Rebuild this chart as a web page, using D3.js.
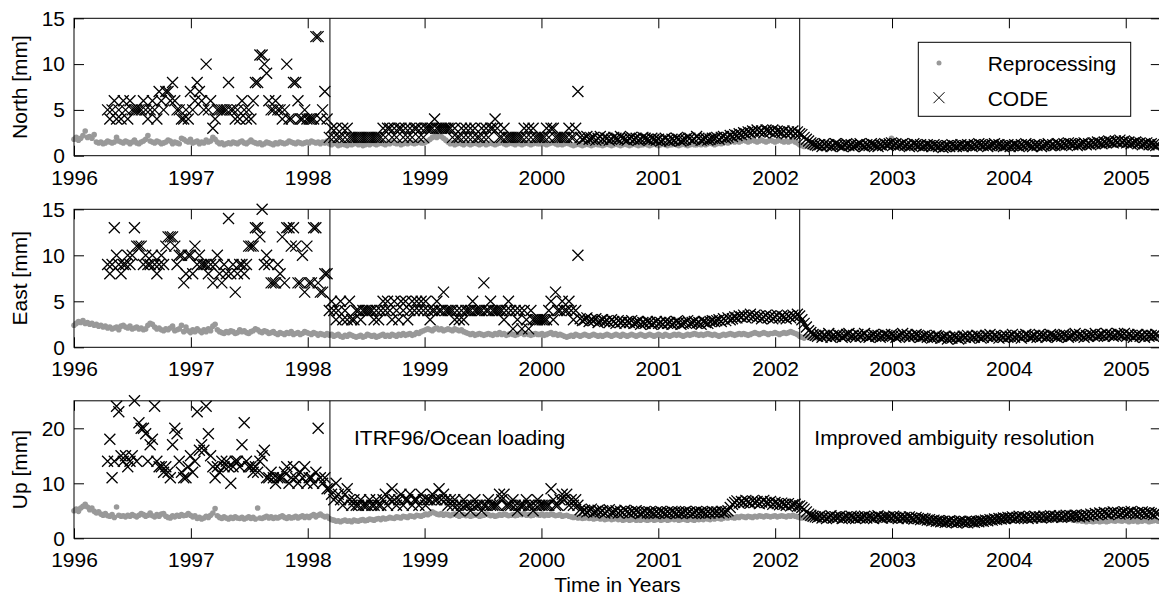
<!DOCTYPE html>
<html>
<head>
<meta charset="utf-8">
<script src="https://cdn.jsdelivr.net/npm/d3@7"></script>
<style>
  body { margin: 0; background: #fff; }
  svg { display: block; font-family: "Liberation Sans", Arial, Helvetica, sans-serif; }
</style>
</head>
<body>
<svg id="chart" width="1159" height="596"></svg>
<script>
// --- Donnees : une valeur par semaine ---
const weekStep = 7 / 365.25;
const reproStart = 1996.0;          // Reprocessing : semaine 0
const codeStart = 1996.0 + 15 * weekStep; // CODE commence a la semaine 15

const xTicks = [1996, 1997, 1998, 1999, 2000, 2001, 2002, 2003, 2004, 2005];
const changeDates = [1998.19, 2002.21];
const annotations = ["ITRF96/Ocean loading", "Improved ambiguity resolution"];
const legendLabels = ["Reprocessing", "CODE"];

const northRepro = [
  // 1996
  1.8,2.0,1.7,1.9,2.2,2.7,2.0,2.1,1.9,2.3, 1.5,1.4,1.5,1.3,1.4,1.6,1.5,1.4,1.5,2.0,
  1.6,1.5,1.4,1.6,1.5,1.3,1.5,1.7,1.4,1.3, 1.5,1.6,1.8,2.2,1.6,1.5,1.4,1.6,1.5,1.3,
  1.4,1.5,1.7,1.6,1.3,1.5,1.4,1.3,1.9,1.8, 1.6,1.5,
  // 1997
  1.8,1.4,1.5,1.6,1.3,1.5,1.4,1.7,1.5,1.6, 2.0,1.8,1.5,1.3,1.4,1.2,1.3,1.4,1.3,1.5,
  1.4,1.3,1.5,1.6,1.4,1.3,1.5,1.7,1.5,1.4, 1.3,1.4,1.2,1.3,1.5,1.4,1.3,1.2,1.4,1.3,
  1.5,1.4,1.3,1.4,1.6,1.5,1.4,1.3,1.5,1.4, 1.3,1.4,
  // 1998
  1.5,1.4,1.6,1.5,1.4,1.5,1.3,1.5,1.4,1.6, 1.3,1.2,1.4,1.3,1.1,1.2,1.3,1.2,1.1,1.3,
  1.2,1.3,1.4,1.2,1.3,1.1,1.2,1.3,1.2,1.4, 1.3,1.2,1.3,1.4,1.3,1.2,1.4,1.3,1.5,1.4,
  1.3,1.4,1.2,1.3,1.4,1.3,1.5,1.4,1.3,1.4, 1.5,1.4,
  // 1999
  1.4,1.5,1.6,1.8,2.0,2.1,2.0,2.2,2.1,1.9, 1.7,1.5,1.3,1.4,1.2,1.3,1.4,1.3,1.2,1.4,
  1.3,1.2,1.3,1.4,1.3,1.2,1.3,1.4,1.2,1.3, 1.4,1.3,1.2,1.3,1.4,1.5,1.3,1.2,1.3,1.4,
  1.3,1.2,1.4,1.3,1.2,1.3,1.4,1.3,1.2,1.3, 1.4,1.3,
  // 2000
  1.3,1.4,1.3,1.2,1.3,1.4,1.5,1.3,1.2,1.3, 1.2,1.3,1.4,1.3,1.2,1.1,1.2,1.3,1.2,1.1,
  1.2,1.3,1.2,1.1,1.2,1.3,1.2,1.2,1.1,1.2, 1.3,1.2,1.1,1.2,1.3,1.2,1.1,1.2,1.3,1.2,
  1.1,1.2,1.3,1.2,1.1,1.2,1.2,1.3,1.2,1.1, 1.2,1.3,
  // 2001
  1.2,1.1,1.2,1.3,1.2,1.1,1.2,1.2,1.3,1.2, 1.1,1.2,1.3,1.2,1.1,1.2,1.3,1.2,1.2,1.3,
  1.2,1.3,1.2,1.3,1.4,1.3,1.2,1.3,1.4,1.3, 1.4,1.5,1.4,1.5,1.6,1.5,1.6,1.5,1.6,1.7,
  1.6,1.5,1.6,1.7,1.6,1.5,1.6,1.7,1.6,1.5, 1.6,1.7,
  // 2002
  1.6,1.5,1.6,1.7,1.6,1.5,1.6,1.5,1.6,1.7, 1.5,1.4,1.2,1.1,1.0,1.1,1.0,0.9,1.0,1.1,
  1.0,0.9,1.0,1.1,1.0,1.0,0.9,1.0,1.1,1.0, 0.9,1.0,1.1,1.0,0.9,1.0,1.1,1.2,1.1,1.0,
  1.1,1.0,0.9,1.0,1.1,1.0,1.1,1.2,1.1,1.0, 1.1,1.2,
  // 2003
  1.1,1.9,1.2,1.0,1.1,1.0,0.9,1.0,1.1,1.0, 0.9,1.0,1.1,1.0,0.9,1.0,0.9,1.0,1.1,1.0,
  0.9,1.0,0.9,1.0,1.1,1.0,0.9,0.8,0.9,1.0, 0.9,1.0,1.1,1.0,0.9,1.0,0.9,1.0,1.1,1.0,
  1.1,1.0,0.9,1.0,1.1,1.0,1.0,1.1,1.0,0.9, 1.0,1.1,
  // 2004
  1.0,1.1,1.0,0.9,1.0,1.1,1.0,0.9,1.0,1.0, 1.1,1.0,0.9,1.0,1.1,1.0,0.9,1.0,1.1,1.0,
  1.0,1.1,1.0,0.9,1.0,1.1,1.2,1.1,1.0,1.1, 1.2,1.1,1.0,1.1,1.2,1.1,1.0,1.1,1.2,1.1,
  1.2,1.1,1.0,1.1,1.2,1.3,1.2,1.1,1.2,1.3, 1.2,1.3,
  // 2005
  1.3,1.2,1.3,1.4,1.3,1.2,1.3,1.4,1.3,1.2, 1.3,1.2,1.1,1.2,1.3,1.2,1.1
];

const northCode = [
  // 1996.29 - 1998.19
  5,4,5,6,4,5,4,6,5,4, 6,5,5,5,5,5,6,5,4,5, 6,5,4,7,6,5,7,7,6,8, 6,5,5,4,4,5,4,7,5,6,
  8,7,6,5,10,5,6,3,4,5, 5,5,5,5,8,5,5,4,5,4, 6,5,4,5,4,6,8,8,11,11, 10,9,6,5,5,6,5,5,4,5,
  10,4,4,8,8,6,4,4,5,4, 4,4,4,13,13,4,5,7,4,
  // 1998.19 - 2000.31
  2,3,2,3,2,2,3,2,3,2,2, 2,2,2,2,2,2,2,2,2,2,2,2,2,
  3,2,3,3,2,3,2,3,3,2,3,2,3,2,3,3,2,3,2,3,3, 3,3,4,3,3,3,3,3,3,3,
  2,3,2,2,3,2,3,2,3,2,3,2,2,3,2,3,2,3,3,4,3,2,2,3,2, 2,2,2,2,2,2,2,
  3,2,3,2,3,2,2,2,2,2, 3,2,3,3,2,2,2,2, 2,2,3,2,2,3, 7,
  // 2000.33 - 2002.19
  2.0,1.8,1.9,2.1,1.8,1.9,2.0,1.7,1.9,2.1, 1.8,2.0,1.9,1.7,1.8,2.0,1.9,1.8,2.1,1.9,
  1.8,1.7,1.9,2.0,1.8,1.9,1.7,1.8,2.0,1.9, 1.8,1.7,1.9,1.8,1.7,
  1.8,1.6,1.7,1.9,1.7,1.6,1.8,1.7,1.9,1.8, 1.6,1.7,1.8,2.0,1.9,1.7,1.8,2.1,1.9,1.7,
  1.8,1.9,1.7,1.8,1.9,
  1.9,2.0,1.8,2.0,2.1,1.9,2.0,2.2,2.1,2.3, 2.2,2.4,2.3,2.5,2.4,2.6,2.5,2.7,2.6,2.8,
  2.6,2.7,2.5,2.8,2.7,2.6,2.8,2.5,2.7,2.6, 2.5,2.7,2.4,2.6,2.5,2.7,2.4,2.6,
  2.4,2.3,2.0,1.8,1.6,1.4,1.3,1.2,
  // 2002.36 - 2005.3
  1.1,1.2,1.0,1.3,1.1,1.2,1.0,1.1,1.3,1.2, 1.1,1.0,1.2,1.3,1.1,1.2,1.0,1.1,1.2,1.3,
  1.1,1.0,1.2,1.1,1.3,1.2,1.1,1.0,1.2,1.1, 1.3,1.2,
  1.3,1.4,1.2,1.3,1.1,1.2,1.3,1.1,1.2,1.0, 1.1,1.3,1.2,1.1,1.2,1.0,1.1,1.2,1.1,1.0,
  1.2,1.1,1.0,1.1,0.9,1.0,1.1,1.0,1.2,1.1, 1.0,1.1,1.2,1.0,1.1,1.2,1.1,1.0,1.2,1.1,
  1.3,1.2,1.1,1.2,1.0,1.1,1.2,1.3,1.1,1.2, 1.1,1.0,
  1.1,1.2,1.0,1.1,1.2,1.1,1.0,1.2,1.1,1.3, 1.2,1.1,1.0,1.2,1.1,1.2,1.0,1.1,1.2,1.3,
  1.1,1.2,1.1,1.3,1.2,1.1,1.3,1.2,1.4,1.3, 1.2,1.3,1.1,1.2,1.3,1.4,1.2,1.3,1.2,1.4,
  1.3,1.5,1.4,1.3,1.5,1.4,1.6,1.5,1.4,1.6, 1.5,1.7,
  1.5,1.6,1.4,1.5,1.3,1.4,1.5,1.3,1.4,1.2, 1.3,1.4,1.2,1.3,1.2,1.1,1.2
];

const eastRepro = [
  // 1996
  2.4,2.6,2.8,2.7,2.9,2.6,2.7,2.5,2.6,2.4, 2.5,2.3,2.4,2.2,2.3,2.1,2.2,2.0,2.1,2.2,
  1.9,2.3,2.4,2.2,2.1,2.3,2.0,2.1,2.2,2.0, 2.1,1.9,2.0,2.4,2.6,2.5,2.2,2.0,2.1,1.9,
  1.8,2.0,1.9,2.1,2.3,1.8,1.9,2.0,2.4,1.7, 2.2,1.8,
  // 1997
  1.6,1.9,1.7,2.0,1.8,1.6,1.9,1.7,2.0,1.8, 2.3,2.5,1.9,1.7,1.6,1.5,1.7,1.6,1.8,1.7,
  1.5,1.6,1.9,1.7,1.8,1.6,1.5,1.7,1.8,2.0, 1.9,1.7,1.6,1.8,1.7,1.5,1.6,1.7,1.5,1.4,
  1.6,1.5,1.4,1.6,1.5,1.7,1.4,1.5,1.6,1.4, 1.5,1.7,
  // 1998
  1.6,1.5,1.4,1.6,1.5,1.3,1.5,1.4,1.3,1.5, 1.3,1.4,1.2,1.3,1.4,1.2,1.1,1.3,1.2,1.4,
  1.3,1.2,1.1,1.2,1.3,1.1,1.2,1.4,1.3,1.2, 1.3,1.1,1.2,1.3,1.4,1.2,1.3,1.2,1.4,1.3,
  1.2,1.4,1.3,1.5,1.3,1.4,1.5,1.3,1.4,1.6, 1.5,1.7,
  // 1999
  1.8,1.9,2.0,1.9,1.8,2.0,2.1,1.9,2.0,1.8, 1.9,2.0,1.9,1.8,2.0,1.9,1.8,1.9,1.7,1.6,
  1.5,1.4,1.5,1.3,1.4,1.5,1.4,1.3,1.4,1.5, 1.4,1.3,1.5,1.4,1.6,1.4,1.5,1.3,1.4,1.5,
  1.4,1.3,1.4,1.5,1.6,1.4,1.5,1.4,1.3,1.4, 1.5,1.4,
  // 2000
  1.4,1.5,1.3,1.4,1.5,1.6,1.4,1.5,1.3,1.4, 1.3,1.2,1.1,1.2,1.3,1.2,1.4,1.3,1.2,1.3,
  1.4,1.3,1.2,1.3,1.4,1.3,1.2,1.3,1.2,1.3, 1.4,1.3,1.2,1.3,1.4,1.3,1.2,1.4,1.3,1.2,
  1.3,1.4,1.3,1.2,1.3,1.4,1.3,1.2,1.3,1.4, 1.3,1.2,
  // 2001
  1.3,1.4,1.3,1.2,1.4,1.3,1.2,1.3,1.4,1.3, 1.4,1.3,1.2,1.3,1.4,1.3,1.4,1.5,1.4,1.3,
  1.4,1.3,1.4,1.5,1.4,1.3,1.4,1.3,1.2,1.3, 1.4,1.3,1.4,1.5,1.4,1.3,1.4,1.5,1.4,1.5,
  1.4,1.3,1.4,1.5,1.6,1.5,1.4,1.5,1.6,1.5, 1.4,1.5,
  // 2002
  1.5,1.6,1.5,1.4,1.5,1.6,1.5,1.6,1.7,1.6, 1.5,1.4,1.2,1.1,1.0,1.2,1.1,1.0,1.1,1.2,
  1.0,1.1,1.2,1.1,1.0,1.1,1.2,1.1,1.0,1.1, 1.0,1.1,1.2,1.1,1.0,1.1,1.2,1.1,1.0,1.1,
  1.2,1.1,1.0,1.1,1.2,1.1,1.0,1.1,1.2,1.1, 1.0,1.1,
  // 2003
  1.1,1.2,1.1,1.0,1.1,1.2,1.1,1.0,1.1,1.2, 1.1,1.0,1.1,1.0,0.9,1.0,1.1,1.0,0.9,1.0,
  1.1,1.0,0.9,1.0,0.9,0.8,0.9,1.0,0.9,1.0, 0.9,1.0,1.1,1.0,0.9,1.0,1.1,1.0,0.9,1.0,
  1.1,1.0,1.1,1.0,0.9,1.0,1.1,1.0,1.1,1.0, 1.1,1.0,
  // 2004
  1.0,1.1,1.0,0.9,1.0,1.1,1.0,1.1,1.0,0.9, 1.0,1.1,1.0,1.1,1.0,1.1,1.2,1.1,1.0,1.1,
  1.0,1.1,1.2,1.1,1.0,1.1,1.0,1.1,1.2,1.1, 1.0,1.1,1.2,1.1,1.0,1.1,1.2,1.1,1.0,1.1,
  1.2,1.1,1.2,1.1,1.0,1.1,1.2,1.1,1.2,1.1, 1.0,1.1,
  // 2005
  1.1,1.2,1.1,1.0,1.1,1.2,1.1,1.0,1.1,1.2, 1.1,1.0,1.1,1.0,1.1,1.0,1.1
];

const eastCode = [
  // 1996.29 - 1998.19
  9,8,9,13,10,9,8,9,9,10, 9,10,13,11,11,11,9,10,9,9, 10,9,8,9,10,9,11,12,12,12,
  11,9,10,10,7,8,10,10,8,11, 9,10,9,9,9,8,9,7,9,10, 8,7,9,8,14,8,9,6,8,9,
  9,8,9,11,11,11,13,13,12,15, 9,10,9,7,7,7,9,8,12,7, 13,13,11,13,11,7,7,10,6,11,
  7,7,13,13,7,6,6,8,8,
  // 1998.19 - 2000.31
  4,5,4,3,4,5,3,4,3,5,3, 3,4,4,3,4,4,4,4,4,3,4,3,4,
  5,4,5,4,3,5,4,3,5,4,5,3,4,5,4,5,4,5,4,5,4, 3,4,4,5,4,4,6,4,4,4,
  4,3,4,3,4,3,4,4,4,5,4,4,4,4,7,4,4,5,4,4,4,4,4,3,4, 5,4,2,4,3,4,2,
  4,3,2,4,3,3,3,3,3,3, 3,4,5,3,6,4,4,5, 4,4,5,4,3,4, 10,
  // 2000.33 - 2002.19
  3.1,2.9,3.0,3.2,2.8,3.0,2.9,3.1,2.7,2.9, 3.0,2.8,2.9,2.7,3.0,2.8,2.6,2.9,2.7,2.8,
  2.6,2.8,2.7,2.9,2.6,2.7,2.8,2.5,2.7,2.6, 2.8,2.7,2.5,2.6,2.8,
  2.6,2.7,2.5,2.8,2.6,2.7,2.5,2.6,2.8,2.7, 2.5,2.6,2.7,2.9,2.6,2.7,2.8,2.6,2.7,2.5,
  2.8,2.7,2.6,2.8,2.9,
  2.8,2.9,3.0,2.8,3.1,2.9,3.2,3.0,3.1,3.3, 3.2,3.4,3.3,3.5,3.2,3.4,3.6,3.3,3.5,3.2,
  3.4,3.1,3.3,3.5,3.2,3.4,3.1,3.3,3.5,3.2, 3.4,3.3,3.1,3.4,3.2,3.5,3.3,3.6,
  3.4,3.0,2.6,2.2,1.8,1.6,1.4,1.3,
  // 2002.36 - 2005.3
  1.2,1.4,1.1,1.3,1.2,1.5,1.1,1.3,1.2,1.4, 1.3,1.1,1.2,1.4,1.5,1.2,1.3,1.1,1.4,1.2,
  1.3,1.5,1.2,1.1,1.3,1.4,1.2,1.3,1.1,1.2, 1.4,1.3,
  1.2,1.4,1.3,1.1,1.2,1.3,1.5,1.2,1.4,1.1, 1.3,1.2,1.4,1.3,1.1,1.2,1.3,1.1,1.2,1.0,
  1.1,1.3,1.2,1.0,1.1,1.2,0.9,1.1,1.0,1.2, 1.1,0.9,1.0,1.2,1.1,1.3,1.0,1.2,1.1,1.3,
  1.2,1.0,1.1,1.3,1.2,1.4,1.1,1.3,1.2,1.0, 1.2,1.1,
  1.3,1.1,1.2,1.4,1.1,1.3,1.2,1.0,1.2,1.4, 1.3,1.1,1.2,1.3,1.1,1.4,1.2,1.3,1.1,1.2,
  1.4,1.3,1.2,1.1,1.3,1.2,1.4,1.3,1.1,1.2, 1.3,1.5,1.2,1.4,1.3,1.1,1.3,1.2,1.4,1.3,
  1.5,1.2,1.3,1.4,1.2,1.5,1.3,1.4,1.2,1.3, 1.5,1.4,
  1.3,1.5,1.2,1.4,1.3,1.1,1.3,1.4,1.2,1.3, 1.1,1.4,1.2,1.3,1.2,1.4,1.3
];

const upRepro = [
  // 1996
  5.0,5.3,4.9,5.5,5.8,6.2,5.7,5.2,5.5,4.9, 4.6,4.8,4.4,4.2,4.5,4.1,4.0,4.3,3.8,5.7,
  4.2,4.0,4.1,3.9,4.2,4.0,4.3,4.1,3.9,4.2, 4.5,4.3,4.0,4.2,4.6,4.1,3.9,4.3,4.0,4.4,
  4.5,4.0,3.8,3.7,4.1,3.9,4.2,4.0,4.3,4.1, 4.2,4.5,
  // 1997
  4.2,3.9,4.1,3.6,3.8,3.5,3.7,4.0,3.8,4.2, 4.6,5.4,4.1,3.8,3.6,3.9,3.7,3.5,3.8,3.6,
  3.9,3.7,3.6,3.8,3.5,3.7,3.9,3.6,3.8,3.5, 5.5,3.7,3.6,3.8,4.0,3.7,3.9,3.6,3.8,3.7,
  3.9,4.1,3.8,3.6,3.9,3.7,3.8,4.0,3.7,3.9, 4.1,3.8,
  // 1998
  4.0,3.8,4.1,4.3,3.9,4.2,4.4,4.1,3.9,4.0, 3.6,3.4,3.3,3.1,3.2,3.0,3.2,3.3,3.1,3.2,
  3.0,3.3,3.2,3.1,3.3,3.4,3.2,3.3,3.5,3.4, 3.3,3.5,3.6,3.4,3.7,3.5,3.6,3.8,3.7,3.6,
  3.9,3.8,3.7,4.0,3.9,3.8,4.1,4.0,3.9,4.2, 4.1,4.0,
  // 1999
  4.2,4.4,4.3,4.5,4.8,4.6,4.4,4.3,4.5,4.2, 4.4,4.3,4.1,4.3,4.4,4.2,4.0,4.2,4.3,4.1,
  4.2,4.0,4.1,4.3,4.2,4.0,4.1,4.2,4.4,4.3, 4.1,4.2,4.0,4.1,4.3,4.2,4.4,4.3,4.1,4.2,
  4.3,4.1,4.2,4.4,4.3,4.5,4.2,4.3,4.1,4.2, 4.4,4.3,
  // 2000
  4.2,4.4,4.1,4.3,4.2,4.4,4.3,4.1,4.2,4.3, 4.0,4.1,4.2,4.0,3.9,3.8,3.9,3.7,3.8,3.6,
  3.7,3.8,3.6,3.7,3.5,3.6,3.7,3.5,3.6,3.4, 3.5,3.6,3.4,3.5,3.6,3.4,3.5,3.3,3.4,3.5,
  3.3,3.4,3.5,3.3,3.4,3.3,3.5,3.4,3.3,3.4, 3.5,3.3,
  // 2001
  3.4,3.5,3.3,3.4,3.5,3.3,3.4,3.6,3.4,3.5, 3.3,3.4,3.5,3.4,3.3,3.5,3.4,3.3,3.5,3.4,
  3.5,3.4,3.6,3.5,3.4,3.6,3.5,3.7,3.6,3.5, 3.7,3.8,3.7,3.9,3.8,3.7,3.9,3.8,4.0,3.9,
  3.8,4.0,3.9,3.8,4.0,3.9,4.1,4.0,3.9,4.1, 4.0,3.9,
  // 2002
  4.0,4.1,3.9,4.0,4.1,4.0,3.9,4.1,4.0,4.2, 4.0,3.9,3.8,3.7,3.9,3.6,3.8,3.7,3.9,3.6,
  3.8,3.7,3.9,3.8,3.6,3.7,3.8,3.6,3.7,3.9, 3.8,3.6,3.7,3.8,3.6,3.7,3.9,3.8,3.7,3.6,
  3.8,3.7,3.6,3.8,3.7,3.9,3.7,3.6,3.8,3.7, 3.6,3.8,
  // 2003
  3.7,3.6,3.8,3.5,3.7,3.6,3.5,3.7,3.4,3.6, 3.5,3.3,3.4,3.5,3.2,3.4,3.3,3.1,3.2,3.3,
  3.0,3.2,3.1,3.0,2.9,3.1,3.0,2.8,3.0,2.9, 2.8,3.0,2.9,3.1,2.8,3.0,2.9,3.1,3.0,2.9,
  3.1,3.2,3.0,3.2,3.1,3.3,3.2,3.1,3.3,3.4, 3.2,3.3,
  // 2004
  3.4,3.3,3.5,3.4,3.6,3.3,3.5,3.4,3.6,3.5, 3.3,3.5,3.4,3.6,3.5,3.4,3.6,3.5,3.3,3.5,
  3.4,3.6,3.5,3.7,3.4,3.6,3.5,3.4,3.6,3.5, 3.3,3.4,3.2,3.3,3.1,3.2,3.0,3.2,3.1,3.0,
  3.1,3.2,3.0,3.1,3.2,3.0,3.1,3.3,3.2,3.1, 3.3,3.2,
  // 2005
  3.1,3.3,3.2,3.0,3.2,3.1,3.3,3.0,3.2,3.1, 3.3,3.2,3.0,3.1,3.2,3.3,3.1
];

const upCode = [
  // 1996.29 - 1998.19
  14,18,11,14,24,23,15,14,15,13, 14,15,25,14,21,20,20,19,14,17, 18,24,14,13,13,12,13,12,11,17,
  20,19,14,12,11,11,13,15,12,14, 23,16,17,16,24,19,15,13,11,13, 12,14,13,14,13,10,13,14,14,13,
  17,21,14,13,13,12,13,12,14,15, 16,11,11,12,11,10,11,11,11,12, 13,10,11,13,11,10,12,11,13,10,
  11,11,10,12,20,11,10,11,9,
  // 1998.19 - 2000.31
  9,8,7,10,8,7,6,8,9,7,6, 7,6,6,7,6,6,6,7,6,6,7,6,6,
  7,8,6,7,9,7,6,7,8,6,7,7,8,6,7,7,6,8,7,6,7, 7,8,7,7,9,7,8,7,6,7,
  6,7,6,5,6,7,6,6,5,6,7,6,6,5,6,6,7,6,6,6,6,8,7,8,6, 6,6,7,6,5,6,6,
  6,7,6,6,5,6,7,6,6,6, 6,6,9,7,6,6,7,8, 7,8,6,7,6,7, 6,
  // 2000.33 - 2002.19
  5.2,4.9,5.1,4.8,5.0,5.3,4.7,4.9,5.1,4.8, 5.0,4.6,4.9,5.2,4.7,4.8,5.0,4.6,4.9,4.7,
  5.1,4.8,4.6,4.9,4.7,5.0,4.8,4.5,4.7,4.9, 4.6,4.8,4.7,4.5,4.8,
  4.6,4.9,4.7,4.5,4.8,4.6,4.9,4.7,4.5,4.8, 4.6,4.7,4.9,4.6,4.8,4.5,4.7,4.9,4.6,4.8,
  4.7,4.5,4.8,4.6,4.9,
  4.7,4.8,4.6,4.9,4.7,4.8,5.0,5.6,6.2,6.5, 6.8,6.4,6.7,6.5,6.9,6.6,6.4,6.8,6.5,6.7,
  6.3,6.6,6.9,6.5,6.4,6.7,6.2,6.5,6.3,6.1, 6.4,6.2,6.0,6.3,5.9,6.1,6.2,5.8,
  5.9,5.6,5.3,4.8,4.4,4.2,4.0,3.9,
  // 2002.36 - 2005.3
  3.8,4.0,3.7,3.9,3.6,3.8,4.1,3.7,3.9,3.8, 4.0,3.6,3.8,3.9,3.7,4.0,3.8,3.6,3.9,3.7,
  3.8,4.0,3.7,3.9,3.8,3.6,3.9,4.1,3.8,3.7, 3.9,3.8,
  3.9,3.7,4.0,3.8,3.6,3.9,3.7,3.8,3.6,3.9, 3.7,3.5,3.8,3.6,3.4,3.6,3.5,3.3,3.4,3.2,
  3.3,3.1,3.2,3.0,3.1,2.9,3.0,3.2,2.9,3.1, 2.8,3.0,3.1,2.9,3.0,2.8,3.1,3.0,2.9,3.1,
  3.0,3.2,3.1,3.3,3.2,3.4,3.3,3.5,3.4,3.6, 3.5,3.7,
  3.6,3.8,3.7,3.9,3.6,3.8,4.0,3.7,3.9,3.8, 3.6,3.9,3.7,4.0,3.8,3.9,3.7,4.0,3.8,3.9,
  4.1,3.8,4.0,3.9,4.1,3.8,4.0,4.2,3.9,4.1, 4.0,4.2,4.1,3.9,4.2,4.0,4.3,4.1,4.4,4.2,
  4.5,4.3,4.6,4.4,4.7,4.5,4.3,4.6,4.8,4.5, 4.7,4.4,
  4.6,4.8,4.5,4.7,4.9,4.6,4.4,4.7,4.5,4.8, 4.6,4.4,4.7,4.5,4.3,4.6,4.5
];

// --- Mise en page ---
const svg = d3.select("#chart");
const fontSize = 21;
const x = d3.scaleLinear().domain([1996, 2005.3]).range([74, 1160.8]);

const panels = [
  { label: "North [mm]", top: 18.3, bottom: 155.7, ymax: 15, yTicks: [0, 5, 10, 15], repro: northRepro, code: northCode },
  { label: "East [mm]",  top: 209.3, bottom: 347.3, ymax: 15, yTicks: [0, 5, 10, 15], repro: eastRepro, code: eastCode },
  { label: "Up [mm]",    top: 400.8, bottom: 538.3, ymax: 25, yTicks: [0, 10, 20], repro: upRepro, code: upCode }
];

const xMark = "M-5.5,-5.5L5.5,5.5M-5.5,5.5L5.5,-5.5";

function styleAxis(g) {
  g.select(".domain").remove();
  g.attr("font-family", null).attr("font-size", fontSize);
  g.selectAll(".tick line").attr("stroke", "#000");
  g.selectAll(".tick text").attr("fill", "#000");
}

panels.forEach(p => {
  const y = d3.scaleLinear().domain([0, p.ymax]).range([p.bottom, p.top]);
  const g = svg.append("g");

  // Reprocessing (points gris)
  g.append("g").selectAll("circle")
    .data(p.repro)
    .join("circle")
    .attr("cx", (d, i) => x(reproStart + i * weekStep))
    .attr("cy", d => y(d))
    .attr("r", 2.8)
    .attr("fill", "#999");

  // CODE (croix)
  g.append("g").selectAll("path")
    .data(p.code)
    .join("path")
    .attr("d", xMark)
    .attr("transform", (d, i) => `translate(${x(codeStart + i * weekStep)},${y(d)})`)
    .attr("fill", "none")
    .attr("stroke", "#000")
    .attr("stroke-width", 1.3);

  // Cadre
  g.append("rect")
    .attr("x", x(1996)).attr("y", p.top)
    .attr("width", x(2005.3) - x(1996)).attr("height", p.bottom - p.top)
    .attr("fill", "none").attr("stroke", "#000").attr("stroke-width", 1);

  // Axes (graduations vers l'interieur)
  g.append("g").attr("transform", `translate(0,${p.bottom})`)
    .call(d3.axisBottom(x).tickValues(xTicks).tickFormat(d3.format("d")).tickSizeInner(-10).tickSizeOuter(0))
    .call(styleAxis)
    .call(a => a.selectAll(".tick text").attr("y", 29).attr("dy", null));
  g.append("g").attr("transform", `translate(0,${p.top})`)
    .call(d3.axisTop(x).tickValues(xTicks).tickFormat("").tickSizeInner(-10).tickSizeOuter(0))
    .call(styleAxis);
  g.append("g").attr("transform", `translate(${x(1996)},0)`)
    .call(d3.axisLeft(y).tickValues(p.yTicks).tickSizeInner(-10).tickSizeOuter(0).tickPadding(9))
    .call(styleAxis);
  g.append("g").attr("transform", `translate(${x(2005.3)},0)`)
    .call(d3.axisRight(y).tickValues(p.yTicks).tickFormat("").tickSizeInner(-10).tickSizeOuter(0))
    .call(styleAxis);

  // Lignes verticales des changements
  g.selectAll("line.change")
    .data(changeDates)
    .join("line")
    .attr("class", "change")
    .attr("x1", d => x(d)).attr("x2", d => x(d))
    .attr("y1", p.top).attr("y2", p.bottom)
    .attr("stroke", "#000").attr("stroke-width", 1);

  // Titre de l'axe Y
  g.append("text")
    .attr("transform", `translate(27,${(p.top + p.bottom) / 2}) rotate(-90)`)
    .attr("text-anchor", "middle")
    .attr("font-size", fontSize)
    .text(p.label);
});

// Annotations (panneau Up)
svg.selectAll("text.annot")
  .data(annotations)
  .join("text")
  .attr("class", "annot")
  .attr("x", (d, i) => [354, 814.3][i])
  .attr("y", 445)
  .attr("font-size", fontSize)
  .text(d => d);

// Legende (panneau North)
const legend = svg.append("g");
legend.append("rect")
  .attr("x", 918.3).attr("y", 42.3).attr("width", 212.4).attr("height", 74)
  .attr("fill", "#fff").attr("stroke", "#000").attr("stroke-width", 1);
legend.append("circle").attr("cx", 939).attr("cy", 63).attr("r", 2.5).attr("fill", "#999");
legend.append("path").attr("d", xMark).attr("transform", "translate(939,97.7)")
  .attr("fill", "none").attr("stroke", "#000");
legend.selectAll("text")
  .data(legendLabels)
  .join("text")
  .attr("x", 987.7)
  .attr("y", (d, i) => [70.8, 106][i])
  .attr("font-size", fontSize)
  .text(d => d);

// Titre de l'axe X
svg.append("text")
  .attr("x", (x(1996) + x(2005.3)) / 2).attr("y", 592)
  .attr("text-anchor", "middle")
  .attr("font-size", fontSize)
  .text("Time in Years");
</script>
</body>
</html>
